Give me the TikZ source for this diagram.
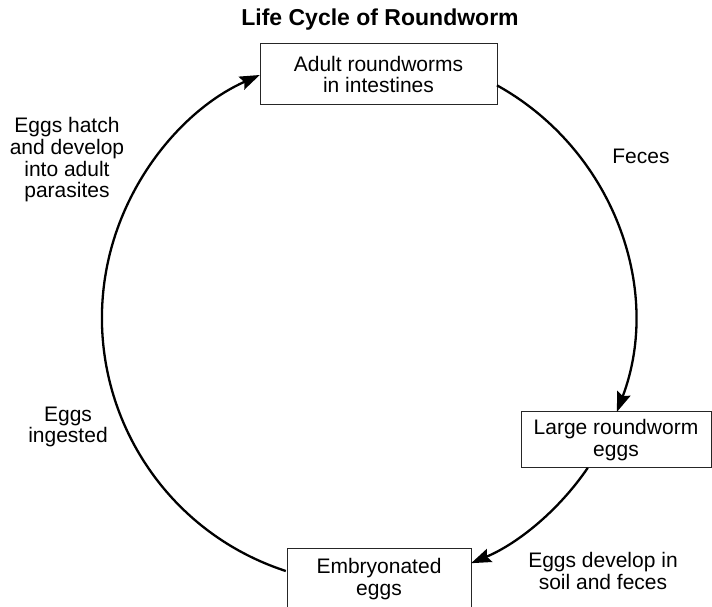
\documentclass[tikz,border=0pt]{standalone}
\usepackage{fontspec}
\setmainfont{Liberation Sans}
\usetikzlibrary{arrows.meta,calc}
\begin{document}
\begin{tikzpicture}[x=1pt,y=1pt,
  stagebox/.style={draw=black!85,line width=1pt,fill=white,inner sep=0pt,align=center,
    font=\fontsize{21}{21.5}\selectfont},
  lbl/.style={align=center,inner sep=0pt,font=\fontsize{21}{21.7}\selectfont},
  cyc/.style={line width=2.3pt,-{Stealth[length=20pt,width=14pt,inset=3pt]}}]
\useasboundingbox (0,0) rectangle (712,607);
\coordinate (c) at (368,289);
\node[font=\fontsize{23}{24}\selectfont\bfseries,inner sep=0pt] (title) at (380,587) {Life Cycle of Roundworm};
\node[stagebox,minimum width=237pt,minimum height=61pt] (adult) at (378.5,532.5) {Adult roundworms\\in intestines};
\node[stagebox,minimum width=190pt,minimum height=56pt] (large) at (616,167) {Large roundworm\\eggs};
\node[stagebox,minimum width=184pt,minimum height=60pt] (embryo) at (379,28) {Embryonated\\eggs};
\node[lbl] (feces) at (641,451) {Feces};
\node[lbl] (develop) at (603,36) {Eggs develop in\\soil and feces};
\node[lbl] (hatch) at (67,447) {Eggs hatch\\and develop\\into adult\\parasites};
\node[lbl] (ingested) at (68,180) {Eggs\\ingested};
\coordinate (a1) at ($(c)+(61:266)$);
\coordinate (a2) at ($(c)+(-34.3:266)$);
\coordinate (a3) at ($(c)+(252:266)$);
\draw[cyc] (a1) arc[start angle=61,end angle=-20.7,radius=266];
\draw[cyc] (a2) arc[start angle=-34.3,end angle=-67.2,radius=266];
\draw[cyc] (a3) arc[start angle=252,end angle=114,radius=266];
\end{tikzpicture}
\end{document}
